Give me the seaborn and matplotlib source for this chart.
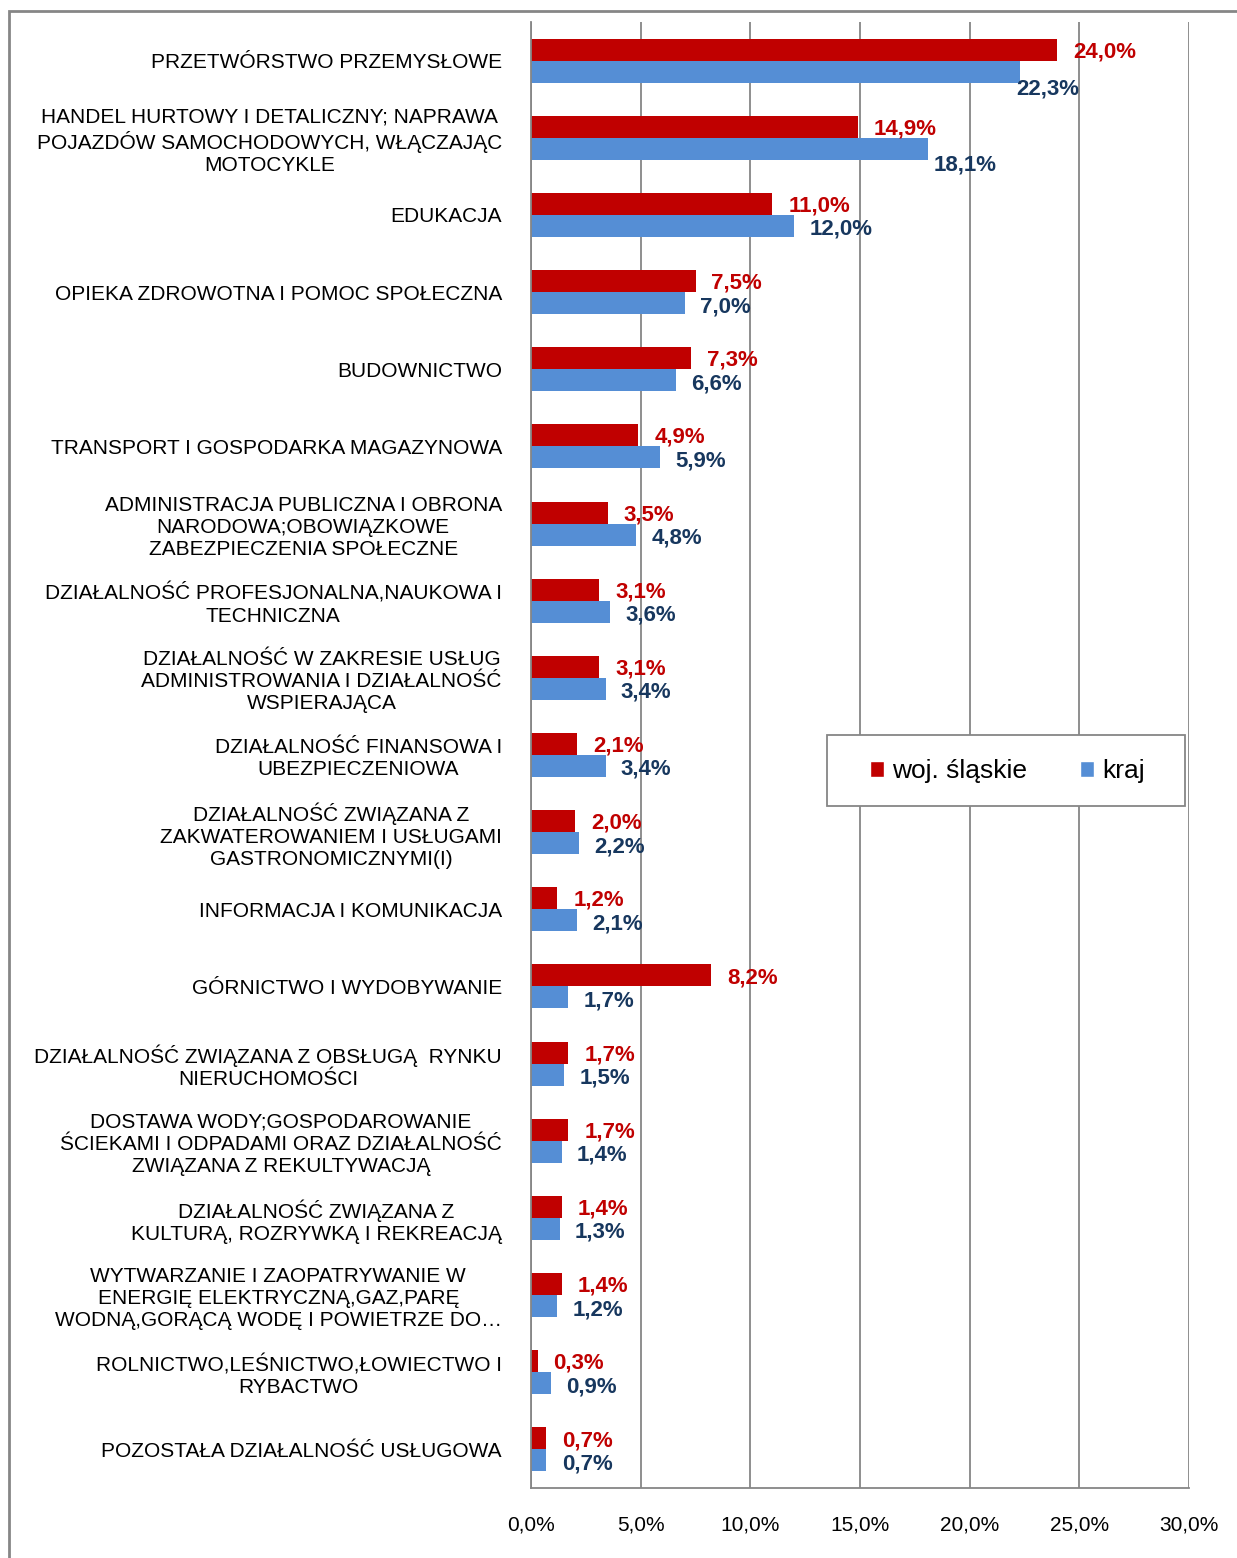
import pandas as pd
import matplotlib.pyplot as plt
import seaborn as sns
from matplotlib.patches import Patch, Rectangle

# Categories (wrapped as in the original chart)
sectors = [
    "PRZETWÓRSTWO PRZEMYSŁOWE",
    "HANDEL HURTOWY I DETALICZNY; NAPRAWA\nPOJAZDÓW SAMOCHODOWYCH, WŁĄCZAJĄC\nMOTOCYKLE",
    "EDUKACJA",
    "OPIEKA ZDROWOTNA I POMOC SPOŁECZNA",
    "BUDOWNICTWO",
    "TRANSPORT I GOSPODARKA MAGAZYNOWA",
    "ADMINISTRACJA PUBLICZNA I OBRONA\nNARODOWA;OBOWIĄZKOWE\nZABEZPIECZENIA SPOŁECZNE",
    "DZIAŁALNOŚĆ PROFESJONALNA,NAUKOWA I\nTECHNICZNA",
    "DZIAŁALNOŚĆ W ZAKRESIE USŁUG\nADMINISTROWANIA I DZIAŁALNOŚĆ\nWSPIERAJĄCA",
    "DZIAŁALNOŚĆ FINANSOWA I\nUBEZPIECZENIOWA",
    "DZIAŁALNOŚĆ ZWIĄZANA Z\nZAKWATEROWANIEM I USŁUGAMI\nGASTRONOMICZNYMI(I)",
    "INFORMACJA I KOMUNIKACJA",
    "GÓRNICTWO I WYDOBYWANIE",
    "DZIAŁALNOŚĆ ZWIĄZANA Z OBSŁUGĄ  RYNKU\nNIERUCHOMOŚCI",
    "DOSTAWA WODY;GOSPODAROWANIE\nŚCIEKAMI I ODPADAMI ORAZ DZIAŁALNOŚĆ\nZWIĄZANA Z REKULTYWACJĄ",
    "DZIAŁALNOŚĆ ZWIĄZANA Z\nKULTURĄ, ROZRYWKĄ I REKREACJĄ",
    "WYTWARZANIE I ZAOPATRYWANIE W\nENERGIĘ ELEKTRYCZNĄ,GAZ,PARĘ\nWODNĄ,GORĄCĄ WODĘ I POWIETRZE DO…",
    "ROLNICTWO,LEŚNICTWO,ŁOWIECTWO I\nRYBACTWO",
    "POZOSTAŁA DZIAŁALNOŚĆ USŁUGOWA",
]

# Share of employment (%)
slaskie = [24.0, 14.9, 11.0, 7.5, 7.3, 4.9, 3.5, 3.1, 3.1, 2.1,
           2.0, 1.2, 8.2, 1.7, 1.7, 1.4, 1.4, 0.3, 0.7]
kraj = [22.3, 18.1, 12.0, 7.0, 6.6, 5.9, 4.8, 3.6, 3.4, 3.4,
        2.2, 2.1, 1.7, 1.5, 1.4, 1.3, 1.2, 0.9, 0.7]

series = ["woj. śląskie", "kraj"]
colors = {"woj. śląskie": "#C00000", "kraj": "#558ED5"}
label_colors = {"woj. śląskie": "#C00000", "kraj": "#17375E"}

df = pd.DataFrame({
    "sector": sectors * 2,
    "value": slaskie + kraj,
    "series": [series[0]] * len(sectors) + [series[1]] * len(sectors),
})

sns.set_style("white")
plt.rcParams["font.family"] = ["Liberation Sans", "DejaVu Sans"]
plt.rcParams["text.color"] = "black"
plt.rcParams["xtick.labelcolor"] = "black"
plt.rcParams["ytick.labelcolor"] = "black"

fig = plt.figure(figsize=(12.37, 15.58), dpi=100)
ax = fig.add_axes([531 / 1237, 1 - 1488 / 1558, 658 / 1237, 1466 / 1558])

sns.barplot(data=df, x="value", y="sector", hue="series", hue_order=series,
            palette=colors, saturation=1, orient="h", width=0.57, linewidth=0,
            legend=False, ax=ax)

ax.set_xlim(0, 30)
ax.set_ylim(len(sectors) - 0.5, -0.5)
ax.set_xticks(range(0, 31, 5))
ax.set_xticklabels([f"{t:.1f}".replace(".", ",") + "%" for t in range(0, 31, 5)],
                   fontsize=15, color="black")
ax.set_yticks(range(len(sectors)))
ax.set_yticklabels(sectors, fontsize=15, multialignment="center", color="black")
ax.set_yticks([i - 0.5 for i in range(len(sectors) + 1)], minor=True)
ax.tick_params(axis="y", which="major", length=0, pad=21)
ax.tick_params(axis="y", which="minor", length=5, width=1.2, color="#868686")
ax.tick_params(axis="x", length=5, width=1.2, color="#868686", pad=15)
ax.set_xlabel("")
ax.set_ylabel("")

ax.grid(axis="x", color="#868686", linewidth=1.3)
ax.grid(axis="y", visible=False)
ax.set_axisbelow(True)
for side in ["top", "right"]:
    ax.spines[side].set_visible(False)
for side in ["left", "bottom"]:
    ax.spines[side].set_color("#868686")
    ax.spines[side].set_linewidth(1.3)

# value labels; Excel nudged the two top "kraj" labels to avoid overlap
nudge = {0: (-14, -10), 1: (-7, -9)}
for container, name in zip(ax.containers, series):
    for i, bar in enumerate(container):
        v = bar.get_width()
        yc = bar.get_y() + bar.get_height() / 2
        dx, dy = 11.5, -1.5
        if name == "kraj":
            dx, dy = 11, -2.5
            if i in nudge:
                dx, dy = dx + nudge[i][0], dy + nudge[i][1]
        ax.annotate(f"{v:.1f}".replace(".", ",") + "%", (v, yc),
                    xytext=(dx, dy), textcoords="offset points",
                    ha="left", va="center", fontsize=16, fontweight="bold",
                    color=label_colors[name])

# legend box
ax.add_patch(Rectangle((0.45, 0.465), 0.544, 0.0486, transform=ax.transAxes,
                       facecolor="white", edgecolor="#868686", linewidth=1.3,
                       zorder=4))
handles = [Patch(facecolor=colors[s], label=s) for s in series]
leg = ax.legend(handles=handles, loc="center", bbox_to_anchor=(0.724, 0.489),
                ncol=2, frameon=False, fontsize=19, handlelength=0.55,
                handleheight=0.55, handletextpad=0.3, columnspacing=2.0)
leg.set_zorder(5)

# outer chart frame
fig.patches.append(Rectangle((9 / 1237, -0.02), 1.1, 0.02 + 1 - 11 / 1558,
                             transform=fig.transFigure, fill=False,
                             edgecolor="#868686", linewidth=2))

plt.savefig("out.png", dpi=100)
plt.close()
